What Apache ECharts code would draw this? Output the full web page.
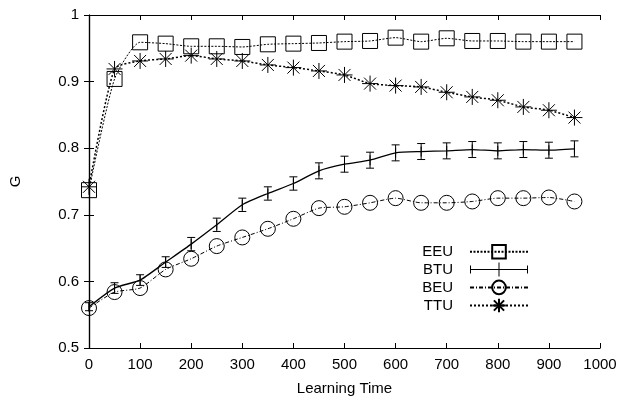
<!DOCTYPE html>
<html>
<head>
<meta charset="utf-8">
<script src="https://cdn.jsdelivr.net/npm/echarts@6/dist/echarts.min.js"></script>
<style>
html,body{margin:0;padding:0;background:#fff;}
#chart{width:622px;height:401px;}
</style>
</head>
<body>
<div id="chart"></div>
<script>
const learningTime = [0,50,100,150,200,250,300,350,400,450,500,550,600,650,700,750,800,850,900,950];
const EEU = [0.737,0.904,0.959,0.957,0.953,0.953,0.952,0.956,0.957,0.958,0.960,0.961,0.966,0.960,0.965,0.961,0.961,0.960,0.960,0.960];
const BTU = [0.562,0.590,0.602,0.629,0.656,0.685,0.715,0.732,0.747,0.766,0.776,0.782,0.793,0.795,0.796,0.798,0.796,0.798,0.797,0.799];
const BTUerr = [0.006,0.008,0.008,0.008,0.010,0.010,0.010,0.010,0.010,0.012,0.012,0.012,0.012,0.012,0.012,0.012,0.012,0.012,0.012,0.012];
const BEU = [0.560,0.584,0.590,0.618,0.634,0.653,0.666,0.679,0.694,0.710,0.712,0.718,0.725,0.718,0.718,0.720,0.725,0.725,0.726,0.720];
const TTU = [0.742,0.919,0.931,0.934,0.939,0.934,0.931,0.925,0.921,0.916,0.910,0.897,0.894,0.892,0.884,0.877,0.872,0.862,0.857,0.846];
const xTicks = {min:0, max:1000, interval:100};
const yTicks = {min:0.5, max:1, interval:0.1};

const FONT = '"Liberation Sans", Arial, sans-serif';
const pairs = arr => learningTime.map((t,i)=>[t, arr[i]]);
const hollow = {color:'rgba(0,0,0,0)', borderColor:'#000', borderWidth:1};
const asterisk = 'path://M0,8L16,8M8,0L8,16M2,2L14,14M14,2L2,14';
const btuIcon = 'path://M0,3L1,3L1,6.5L28.5,6.5L28.5,0L29.5,0L29.5,6.5L57,6.5L57,3L58,3L58,11L57,11L57,7.5L29.5,7.5L29.5,14L28.5,14L28.5,7.5L1,7.5L1,11L0,11Z';

const chart = echarts.init(document.getElementById('chart'), null, {renderer:'canvas'});
const axisCommon = {
  axisLine:{show:true, lineStyle:{color:'#000', width:1.2}},
  axisTick:{show:true, inside:true, length:5, lineStyle:{color:'#000', width:1}},
  splitLine:{show:false}
};
chart.setOption({
  animation:false,
  backgroundColor:'#fff',
  grid:{left:89, right:22, top:15, bottom:48, containLabel:false},
  legend:{
    orient:'vertical', right:88, top:239, align:'right',
    itemWidth:58, itemHeight:17, itemGap:2.5,
    textStyle:{fontFamily:FONT, fontSize:15, color:'#000', padding:[0,12,0,0]},
    data:['EEU', {name:'BTU', icon:btuIcon, itemStyle:{color:'#000', borderWidth:0}}, 'BEU', 'TTU']
  },
  xAxis:[
    Object.assign({type:'value', min:xTicks.min, max:xTicks.max, interval:xTicks.interval, position:'bottom',
      name:'Learning Time', nameLocation:'middle', nameGap:33,
      nameTextStyle:{fontFamily:FONT, fontSize:15, color:'#000'},
      axisLabel:{fontFamily:FONT, fontSize:15, color:'#000', margin:9, formatter:v=>String(v)}}, axisCommon),
    Object.assign({type:'value', min:xTicks.min, max:xTicks.max, interval:xTicks.interval, position:'top',
      axisLabel:{show:false}}, axisCommon)
  ],
  yAxis:[
    Object.assign({type:'value', min:yTicks.min, max:yTicks.max, interval:yTicks.interval, position:'left',
      name:'G', nameLocation:'middle', nameGap:66,
      nameTextStyle:{fontFamily:FONT, fontSize:15, color:'#000'},
      axisLabel:{fontFamily:FONT, fontSize:15, color:'#000', margin:10, formatter:v=>String(+v.toFixed(1))}}, axisCommon),
    Object.assign({type:'value', min:yTicks.min, max:yTicks.max, interval:yTicks.interval, position:'right',
      axisLabel:{show:false}}, axisCommon)
  ],
  series:[
    {name:'EEU', type:'line', data:pairs(EEU), symbol:'rect', symbolSize:15, showAllSymbol:true,
      smooth:0.2, lineStyle:{color:'#000', width:1, type:[2,1.5]}, itemStyle:hollow, z:3},
    {name:'BTU', type:'line', data:pairs(BTU), symbol:'path://M0,0L2,0L2,10L0,10Z', symbolSize:[1,10],
      smooth:0.2, lineStyle:{color:'#000', width:1.3, type:'solid'}, itemStyle:{color:'#000'}, z:3},
    {name:'BEU', type:'line', data:pairs(BEU), symbol:'circle', symbolSize:15,
      smooth:0.2, lineStyle:{color:'#000', width:1, type:[4,2,1,2]}, itemStyle:hollow, z:3},
    {name:'TTU', type:'line', data:pairs(TTU), symbol:asterisk, symbolSize:16, symbolKeepAspect:true,
      smooth:0.2, lineStyle:{color:'#000', width:1.5, type:[2,2]}, itemStyle:hollow, z:3},
    {name:'BTU-err', type:'custom', z:4,
      data:learningTime.map((t,i)=>[t, BTU[i], BTUerr[i]]),
      renderItem:function(params, api){
        const x = api.value(0), y = api.value(1), e = api.value(2);
        const lo = api.coord([x, y-e]), hi = api.coord([x, y+e]);
        const w = 4;
        const st = {stroke:'#000', lineWidth:1};
        return {type:'group', children:[
          {type:'line', shape:{x1:lo[0], y1:lo[1], x2:hi[0], y2:hi[1]}, style:st},
          {type:'line', shape:{x1:lo[0]-w, y1:lo[1], x2:lo[0]+w, y2:lo[1]}, style:st},
          {type:'line', shape:{x1:hi[0]-w, y1:hi[1], x2:hi[0]+w, y2:hi[1]}, style:st}
        ]};
      }
    }
  ]
});
</script>
</body>
</html>
